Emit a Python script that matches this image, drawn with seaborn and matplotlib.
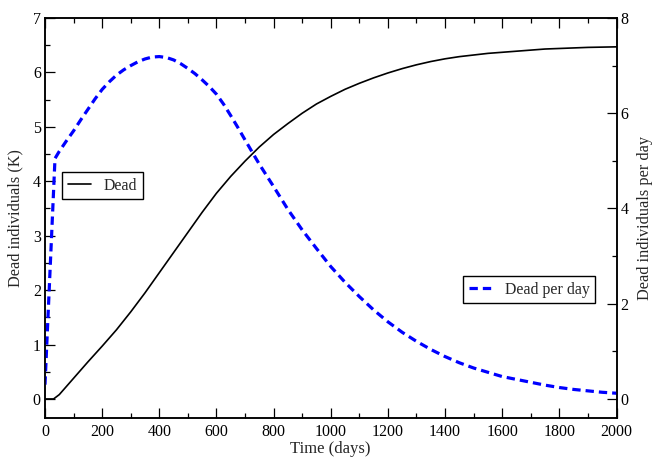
import matplotlib
matplotlib.use("Agg")
import matplotlib.pyplot as plt
import seaborn as sns
import pandas as pd
from matplotlib.ticker import MultipleLocator

# ---- data ----
t_dead = [0, 30, 50, 100, 150, 200, 250, 300, 350, 400, 450, 500, 550, 600, 650,
          700, 750, 800, 850, 900, 950, 1000, 1050, 1100, 1150, 1200, 1250, 1300,
          1350, 1400, 1450, 1500, 1550, 1600, 1650, 1700, 1750, 1800, 1850, 1900,
          1950, 2000]
dead_k = [0.0, 0.0, 0.08, 0.38, 0.68, 0.97, 1.27, 1.6, 1.95, 2.32, 2.69, 3.06,
          3.43, 3.78, 4.09, 4.37, 4.63, 4.86, 5.06, 5.25, 5.42, 5.56, 5.69, 5.8,
          5.9, 5.99, 6.07, 6.14, 6.2, 6.25, 6.29, 6.32, 6.35, 6.37, 6.39, 6.41,
          6.43, 6.44, 6.45, 6.46, 6.465, 6.47]

t_rate = [0, 35, 50, 75, 100, 125, 150, 175, 200, 225, 250, 275, 300, 325, 350,
          375, 400, 425, 450, 475, 500, 525, 550, 575, 600, 625, 650, 675,
          700, 750, 800, 850, 900, 950, 1000, 1050, 1100, 1150, 1200, 1250, 1300,
          1350, 1400, 1450, 1500, 1550, 1600, 1650, 1700, 1750, 1800, 1850, 1900,
          1950, 2000]
dead_per_day = [0.3, 5.05, 5.2, 5.42, 5.63, 5.86, 6.08, 6.3, 6.5, 6.66, 6.8, 6.91,
                7.0, 7.08, 7.14, 7.18, 7.19, 7.17, 7.12, 7.04, 6.94, 6.83, 6.7,
                6.56, 6.4, 6.19, 5.95, 5.7, 5.44, 4.93, 4.46, 3.98, 3.55, 3.16,
                2.78, 2.45, 2.15, 1.87, 1.62, 1.4, 1.21, 1.04, 0.89, 0.76, 0.65,
                0.56, 0.47, 0.41, 0.35, 0.29, 0.24, 0.2, 0.17, 0.14, 0.12]

x_label = "Time (days)"
y_left_label = "Dead individuals (K)"
y_right_label = "Dead individuals per day"

sns.set_style("ticks")
plt.rcParams["font.family"] = ["Liberation Serif", "DejaVu Serif"]
plt.rcParams["lines.scale_dashes"] = False

df_dead = pd.DataFrame({"t": t_dead, "v": dead_k})
df_rate = pd.DataFrame({"t": t_rate, "v": dead_per_day})

fig = plt.figure(figsize=(6.52, 4.59), dpi=100)
ax = fig.add_axes([45 / 652, 1 - 418 / 459, (616.5 - 45) / 652, (418 - 18) / 459])
ax2 = ax.twinx()

sns.lineplot(data=df_dead, x="t", y="v", ax=ax, color="black", linewidth=1.2,
             label="Dead", legend=False)
sns.lineplot(data=df_rate, x="t", y="v", ax=ax2, color="#0000ff", linewidth=2.3,
             label="Dead per day", legend=False, dashes=False)
ax2.lines[0].set_dashes((6, 3.6))
ax.lines[0].set_solid_joinstyle("round")
ax2.lines[0].set_dash_joinstyle("round")

ax.set_xlim(0, 2000)
ax.set_ylim(-0.35, 7)
ax2.set_ylim(-0.4, 8)

ax.xaxis.set_major_locator(MultipleLocator(200))
ax.xaxis.set_minor_locator(MultipleLocator(100))
ax.yaxis.set_major_locator(MultipleLocator(1))
ax.yaxis.set_minor_locator(MultipleLocator(0.5))
ax2.yaxis.set_major_locator(MultipleLocator(2))
ax2.yaxis.set_minor_locator(MultipleLocator(1))

for a in (ax, ax2):
    for s in a.spines.values():
        s.set_visible(True)
        s.set_linewidth(1.1)
        s.set_color("black")

ax.tick_params(axis="x", which="both", direction="in", top=True, bottom=True,
               labelsize=11.5, pad=4, colors="black")
ax.tick_params(axis="y", which="both", direction="in", left=True, right=False,
               labelsize=11.5, pad=3, colors="black")
ax.tick_params(which="major", length=7.2, width=0.9)
ax.tick_params(which="minor", length=3.6, width=0.9)
ax2.tick_params(axis="y", which="both", direction="in", right=True, left=False,
                labelsize=11.5, pad=3, colors="black")
ax2.tick_params(which="major", length=7.2, width=0.9)
ax2.tick_params(which="minor", length=3.6, width=0.9)

ax.set_xlabel(x_label, fontsize=12, labelpad=1)
ax.set_ylabel(y_left_label, fontsize=11.7, labelpad=7)
ax2.set_ylabel(y_right_label, fontsize=11.7, labelpad=6)

leg_kw = dict(fontsize=11.4, frameon=True, fancybox=False, framealpha=1,
              edgecolor="black", handlelength=1.5, handletextpad=0.8,
              borderpad=0.35, borderaxespad=0)
l1 = ax.legend(handles=[ax.lines[0]], labels=["Dead"], loc="upper left",
               bbox_to_anchor=((62 - 45) / 571.5, (418 - 172) / 400), **leg_kw)
l1.get_frame().set_linewidth(1.0)
l2 = ax2.legend(handles=[ax2.lines[0]], labels=["Dead per day"], loc="upper left",
                bbox_to_anchor=((463 - 45) / 571.5, (418 - 276) / 400), **leg_kw)
l2.get_frame().set_linewidth(1.0)

fig.savefig("out.png", dpi=100)
